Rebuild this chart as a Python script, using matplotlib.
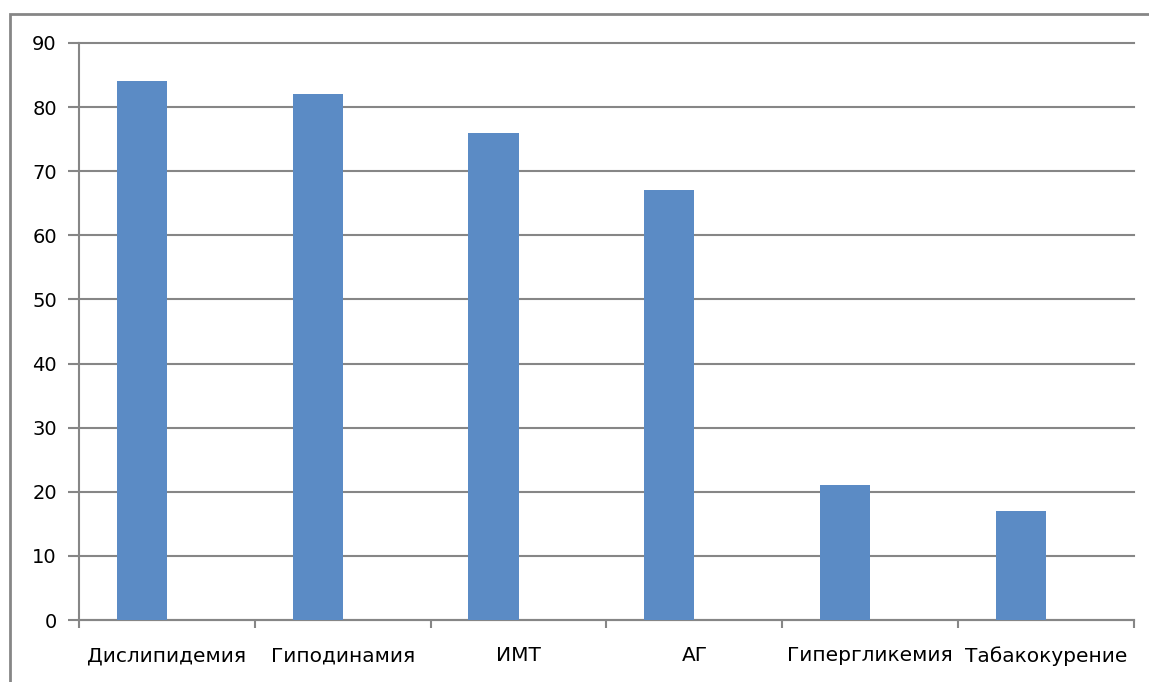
import matplotlib.pyplot as plt
from matplotlib.patches import Rectangle
import numpy as np

# data
categories = ["Дислипидемия", "Гиподинамия", "ИМТ", "АГ", "Гипергликемия", "Табакокурение"]
values = [84, 82, 76, 67, 21, 17]
y_ticks = [0, 10, 20, 30, 40, 50, 60, 70, 80, 90]

W, H = 1149, 682
fig = plt.figure(figsize=(W / 100, H / 100), dpi=100)
ax = fig.add_axes([79 / W, (H - 620) / H, (1134 - 79) / W, (620 - 43) / H])

grid_c = "#868686"
bar_c = "#5B8BC5"

x = np.arange(len(categories))
# bars sit just left of the category centre (as in the original Excel chart)
ax.bar(x, values, width=-0.285, align="edge", color=bar_c, zorder=3)

ax.set_xlim(-0.5, len(categories) - 0.5)
ax.set_ylim(0, 90)
ax.set_yticks(y_ticks)
ax.yaxis.grid(True, color=grid_c, linewidth=1.5, zorder=0)
for gl in ax.get_ygridlines():
    gl.set_clip_on(False)

ax.set_xticks(x)
ax.set_xticklabels(categories)
ax.set_xticks(np.arange(len(categories) + 1) - 0.5, minor=True)
ax.tick_params(axis="x", which="major", length=0, pad=19, labelsize=14.5)
ax.tick_params(axis="x", which="minor", length=6, width=1.5, color=grid_c, direction="out")
ax.tick_params(axis="y", length=8, width=1.5, color=grid_c, pad=8, labelsize=14)

for s in ["top", "right"]:
    ax.spines[s].set_visible(False)
for s in ["left", "bottom"]:
    ax.spines[s].set_color(grid_c)
    ax.spines[s].set_linewidth(1.5)

# outer chart border (right and bottom edges fall outside the image)
fig.patches.append(Rectangle((10 / W, -0.1), 1.2, (H - 14) / H + 0.1,
                             transform=fig.transFigure, fill=False,
                             edgecolor=grid_c, linewidth=2))

fig.savefig("out.png", dpi=100)
